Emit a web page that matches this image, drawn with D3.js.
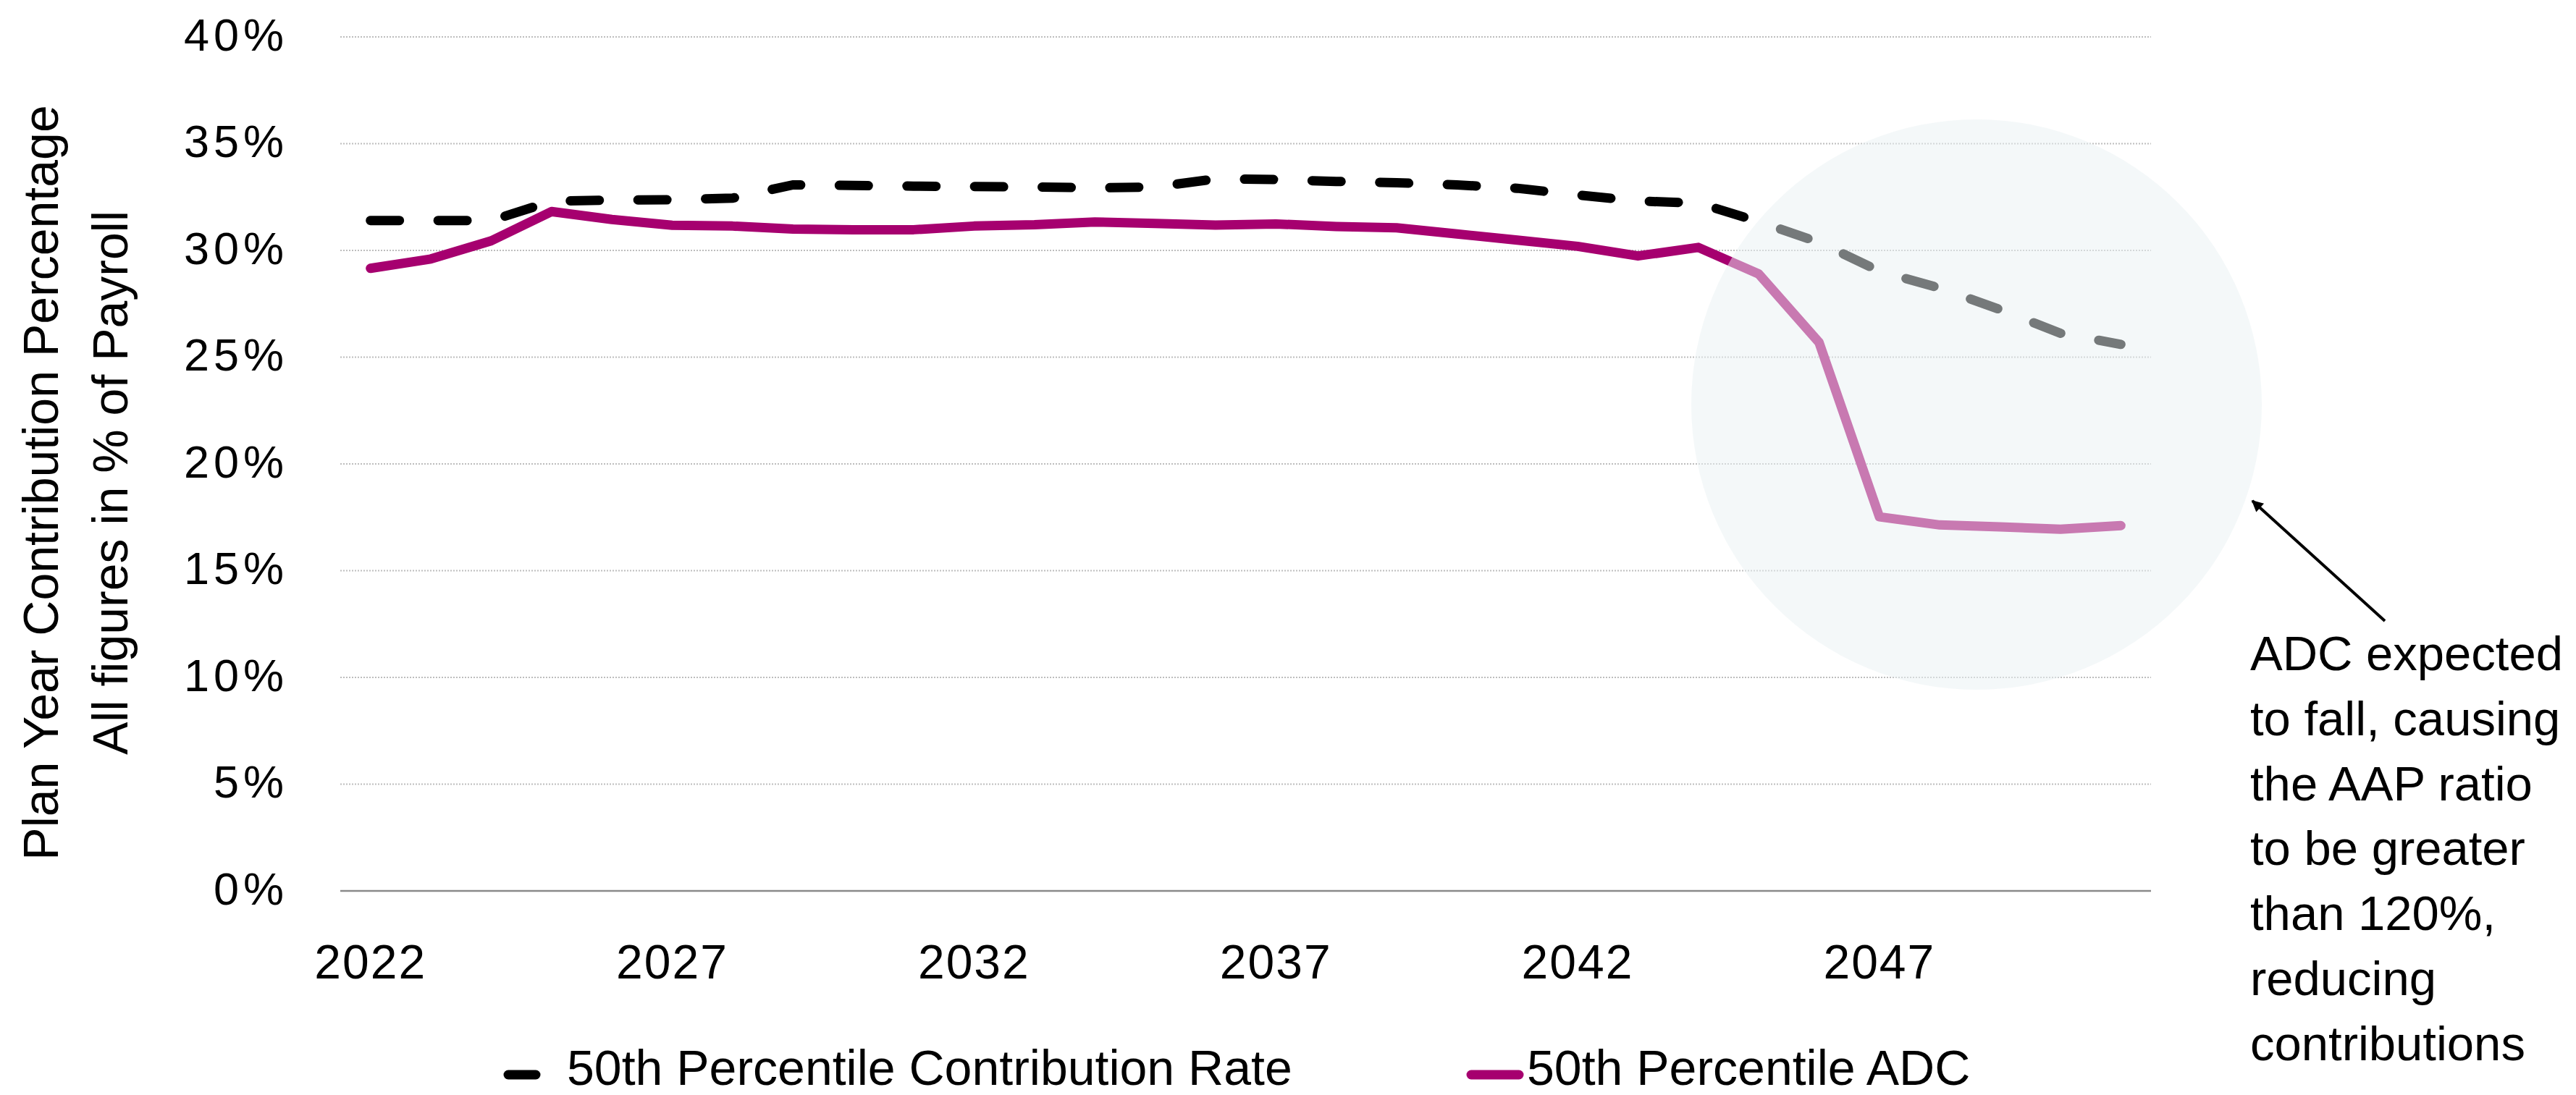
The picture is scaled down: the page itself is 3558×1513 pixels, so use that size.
<!DOCTYPE html>
<html>
<head>
<meta charset="utf-8">
<script src="https://cdn.jsdelivr.net/npm/d3@7"></script>
<style>
  body { margin: 0; background: #fff; }
  text { font-family: "Liberation Sans", Arial, Helvetica, sans-serif; fill: #000; }
</style>
</head>
<body>
<div id="chart"></div>
<script>
const years = [2022, 2023, 2024, 2025, 2026, 2027, 2028, 2029, 2030, 2031,
  2032, 2033, 2034, 2035, 2036, 2037, 2038, 2039, 2040, 2041,
  2042, 2043, 2044, 2045, 2046, 2047, 2048, 2049, 2050, 2051];

const contributionRate = [31.4, 31.4, 31.4, 32.3, 32.36, 32.37, 32.45, 33.07, 33.04, 33.01,
  32.99, 32.97, 32.93, 32.97, 33.35, 33.32, 33.23, 33.17, 33.07, 32.91,
  32.6, 32.31, 32.22, 31.35, 30.38, 29.03, 28.24, 27.23, 26.12, 25.6];

const adc = [29.16, 29.6, 30.45, 31.82, 31.45, 31.18, 31.14, 31.0, 30.97, 30.97,
  31.14, 31.2, 31.33, 31.26, 31.19, 31.24, 31.12, 31.06, 30.77, 30.48,
  30.19, 29.74, 30.14, 28.9, 25.69, 17.52, 17.14, 17.05, 16.94, 17.11];

const yTicks = [0, 5, 10, 15, 20, 25, 30, 35, 40];
const xTicks = [2022, 2027, 2032, 2037, 2042, 2047];
const seriesNames = ['50th Percentile Contribution Rate', '50th Percentile ADC'];
const yTitle = ['Plan Year Contribution Percentage', 'All figures in % of Payroll'];
const note = ['ADC expected', 'to fall, causing', 'the AAP ratio', 'to be greater',
  'than 120%,', 'reducing', 'contributions'];

const width = 3558;
const height = 1513;
const plot = { left: 470, right: 2971, top: 51, bottom: 1231 };
const magenta = '#a6006f';

const svg = d3.select('#chart').append('svg')
  .attr('width', width)
  .attr('height', height);

const xBand = d3.scaleBand()
  .domain(years)
  .range([plot.left, plot.right]);
const x = d => xBand(d) + xBand.bandwidth() / 2;

const y = d3.scaleLinear()
  .domain([0, 40])
  .range([plot.bottom, plot.top]);

// gridlines
svg.append('g').selectAll('line')
  .data(yTicks.filter(d => d > 0))
  .join('line')
  .attr('x1', plot.left)
  .attr('x2', plot.right)
  .attr('y1', d => y(d))
  .attr('y2', d => y(d))
  .attr('stroke', '#bdbdbd')
  .attr('stroke-width', 2)
  .attr('stroke-dasharray', '2,2');

svg.append('line')
  .attr('x1', plot.left)
  .attr('x2', plot.right)
  .attr('y1', y(0))
  .attr('y2', y(0))
  .attr('stroke', '#8a8a8a')
  .attr('stroke-width', 2.5);

// y axis
const yAxis = d3.axisLeft(y)
  .tickValues(yTicks)
  .tickSize(0)
  .tickFormat(d => d + '%');

const yG = svg.append('g')
  .attr('transform', `translate(${plot.left},0)`)
  .call(yAxis);
yG.select('.domain').remove();
yG.selectAll('text')
  .attr('x', -72)
  .attr('dy', 18)
  .attr('font-size', 63)
  .attr('letter-spacing', 6)
  .style('font-family', '"Liberation Sans", Arial, sans-serif')
  .attr('fill', '#000');

// x axis
const xAxis = d3.axisBottom(xBand)
  .tickValues(xTicks)
  .tickSize(0);

const xG = svg.append('g')
  .attr('transform', `translate(0,${plot.bottom})`)
  .call(xAxis);
xG.select('.domain').remove();
xG.selectAll('text')
  .attr('y', 121)
  .attr('dy', 0)
  .attr('font-size', 66)
  .attr('letter-spacing', 2)
  .style('font-family', '"Liberation Sans", Arial, sans-serif')
  .attr('fill', '#000');

// y title
const titleG = svg.append('g')
  .attr('transform', 'translate(0,667) rotate(-90)');
titleG.selectAll('text')
  .data(yTitle)
  .join('text')
  .attr('x', 0)
  .attr('y', (d, i) => 80 + i * 96)
  .attr('text-anchor', 'middle')
  .attr('font-size', 68)
  .text(d => d);

// lines
const line = d3.line()
  .x((d, i) => x(years[i]))
  .y(d => y(d));

svg.append('path')
  .datum(adc)
  .attr('d', line)
  .attr('fill', 'none')
  .attr('stroke', magenta)
  .attr('stroke-width', 13)
  .attr('stroke-linejoin', 'round')
  .attr('stroke-linecap', 'round');

svg.append('path')
  .datum(contributionRate)
  .attr('d', line)
  .attr('fill', 'none')
  .attr('stroke', '#000')
  .attr('stroke-width', 13)
  .attr('stroke-linecap', 'round')
  .attr('stroke-dasharray', '40,53.4');

// highlight circle (semi-transparent overlay)
svg.append('circle')
  .attr('cx', 2730)
  .attr('cy', 559)
  .attr('r', 394)
  .attr('fill', 'rgb(233,241,243)')
  .attr('fill-opacity', 0.5);

// arrow
const defs = svg.append('defs');
defs.append('marker')
  .attr('id', 'arrowhead')
  .attr('viewBox', '0 0 10 10')
  .attr('refX', 9)
  .attr('refY', 5)
  .attr('markerWidth', 5)
  .attr('markerHeight', 4)
  .attr('orient', 'auto')
  .append('path')
  .attr('d', 'M0,0 L10,5 L0,10 z')
  .attr('fill', '#000');

svg.append('line')
  .attr('x1', 3294)
  .attr('y1', 858)
  .attr('x2', 3111)
  .attr('y2', 692)
  .attr('stroke', '#000')
  .attr('stroke-width', 4)
  .attr('marker-end', 'url(#arrowhead)');

svg.append('g').selectAll('text')
  .data(note)
  .join('text')
  .attr('x', 3108)
  .attr('y', (d, i) => 926 + i * 89.8)
  .attr('font-size', 67)
  .text(d => d);

// legend
const legend = svg.append('g');
legend.append('line')
  .attr('x1', 702).attr('x2', 740)
  .attr('y1', 1485).attr('y2', 1485)
  .attr('stroke', '#000')
  .attr('stroke-width', 13)
  .attr('stroke-linecap', 'round');
legend.append('text')
  .attr('x', 783)
  .attr('y', 1499)
  .attr('font-size', 68)
  .text(seriesNames[0]);

legend.append('line')
  .attr('x1', 2032).attr('x2', 2098)
  .attr('y1', 1485).attr('y2', 1485)
  .attr('stroke', magenta)
  .attr('stroke-width', 13)
  .attr('stroke-linecap', 'round');
legend.append('text')
  .attr('x', 2109)
  .attr('y', 1499)
  .attr('font-size', 68)
  .text(seriesNames[1]);
</script>
</body>
</html>
